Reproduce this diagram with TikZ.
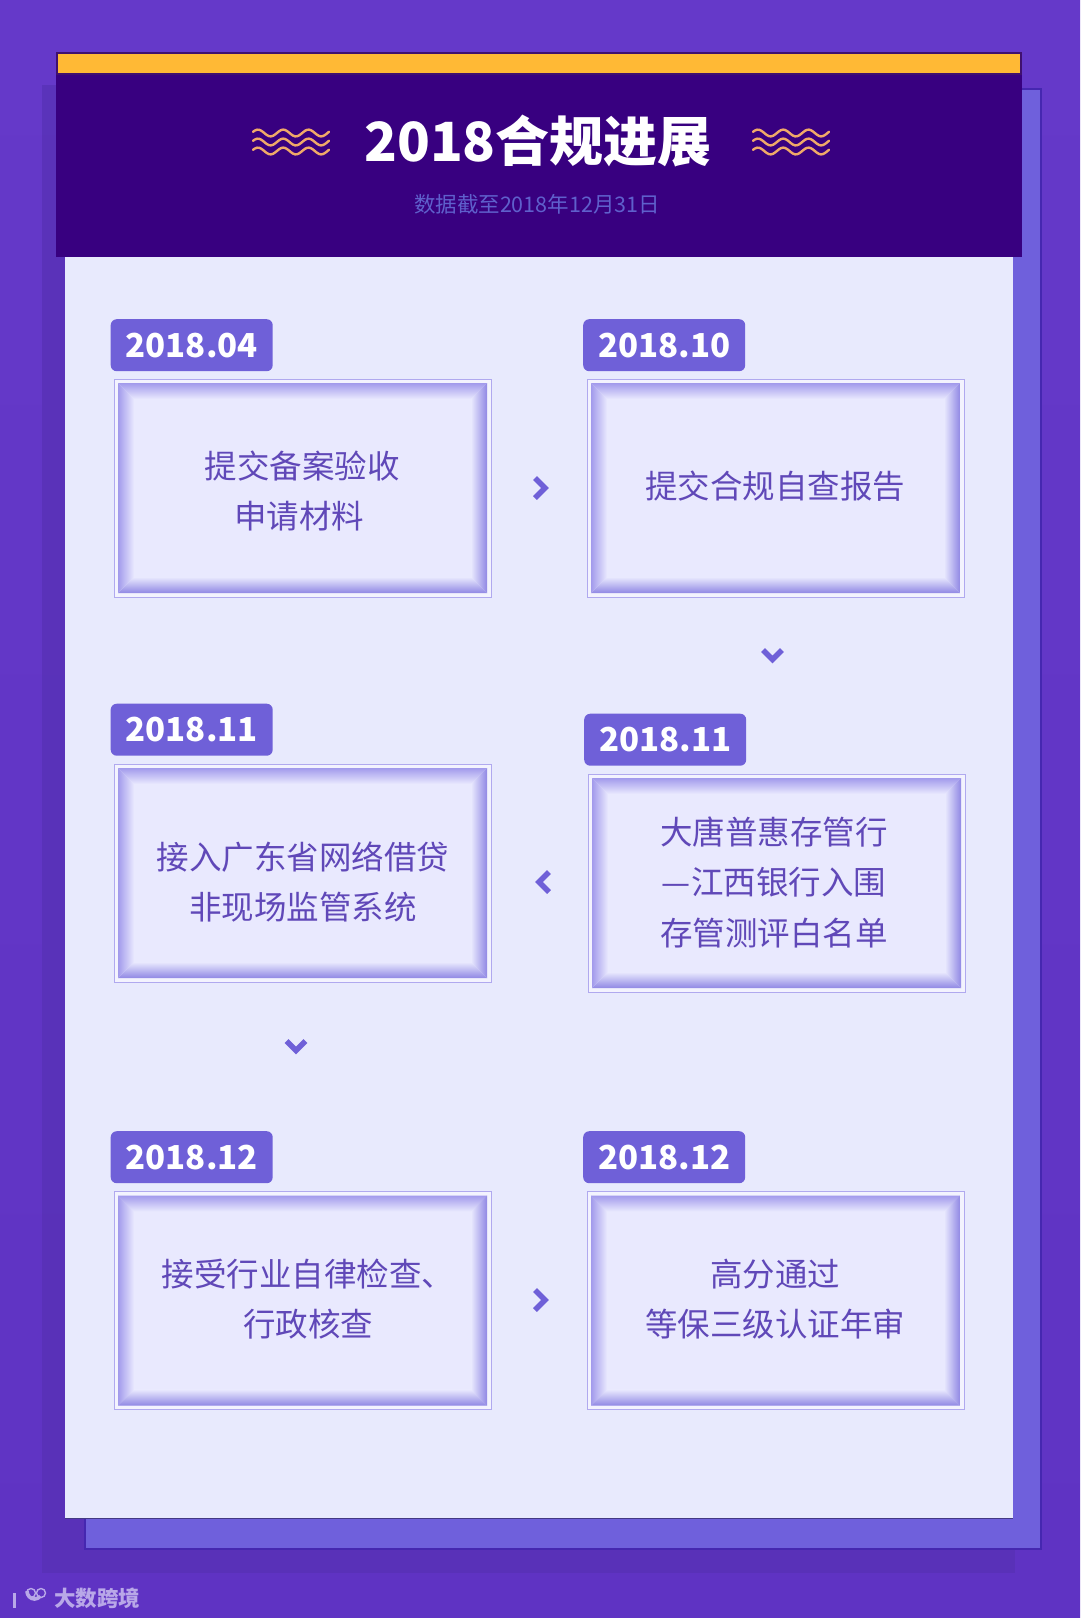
\documentclass[tikz,border=0pt]{standalone}
\usepackage{fontspec}
\setmainfont{Noto Sans CJK SC}
\definecolor{bgtop}{HTML}{6539C9}
\definecolor{bgbot}{HTML}{5F33C3}
\definecolor{shadowc}{HTML}{5731B5}
\definecolor{panelback}{HTML}{6F60DC}
\definecolor{panelline}{HTML}{4527B0}
\definecolor{panellight}{HTML}{E8EAFD}
\definecolor{headerc}{HTML}{380080}
\definecolor{headerline}{HTML}{40106F}
\definecolor{yellowc}{HTML}{FFB935}
\definecolor{wavec}{HTML}{F0A968}
\definecolor{subc}{HTML}{5F60CC}
\definecolor{tagc}{HTML}{6F60D8}
\definecolor{textc}{HTML}{6048B8}
\definecolor{edgec}{HTML}{A29AEC}
\definecolor{edgedark}{HTML}{9088E4}
\definecolor{innerc}{HTML}{E9E9FE}
\definecolor{markc}{HTML}{B9A8E8}
\tikzset{
  framebox/.style={draw=edgec!85!white,line width=1pt,fill=white!45!innerc,anchor=north west,inner sep=0pt,minimum width=377pt,minimum height=218pt},
  tagbox/.style={fill=tagc,rounded corners=6pt,anchor=north west,inner sep=0pt,minimum width=162pt,minimum height=52pt,text=white,font=\fontsize{33}{40}\selectfont\bfseries},
  bodytext/.style={text=textc,align=center,inner sep=0pt,font=\fontsize{32.5}{50.5}\selectfont},
  chevron/.style={draw=tagc,line width=5.5pt,miter limit=10},
  wave/.style={draw=wavec,line width=2.4pt,line cap=round}
}
\newcommand{\insetframe}[4]{%
  \fill[innerc] (#1,#2) rectangle (#3,#4);
  \begin{scope}
    \clip (#1,#2) -- (#1+16,#2+16) -- (#3-16,#2+16) -- (#3,#2) -- cycle;
    \shade[top color=edgec,bottom color=innerc] (#1,#2) rectangle (#3,#2+16);
  \end{scope}
  \begin{scope}
    \clip (#1,#4) -- (#1+16,#4-16) -- (#3-16,#4-16) -- (#3,#4) -- cycle;
    \shade[bottom color=edgedark,top color=innerc] (#1,#4-16) rectangle (#3,#4);
  \end{scope}
  \begin{scope}
    \clip (#1,#2) -- (#1+16,#2+16) -- (#1+16,#4-16) -- (#1,#4) -- cycle;
    \shade[left color=edgec,right color=innerc] (#1,#2) rectangle (#1+16,#4);
  \end{scope}
  \begin{scope}
    \clip (#3,#2) -- (#3-16,#2+16) -- (#3-16,#4-16) -- (#3,#4) -- cycle;
    \shade[right color=edgedark,left color=innerc] (#3-16,#2) rectangle (#3,#4);
  \end{scope}
}
\newcommand{\waves}[2]{%
  \foreach \dy in {0,9,18}{
    \draw[wave] plot[smooth,domain=0:76,samples=39] ({#1+\x},{#2+\dy+3.4*sin(\x/25.3*360+200)});
  }
}
\begin{document}
\begin{tikzpicture}[x=1pt,y=-1pt]
\useasboundingbox (0,0) rectangle (1080,1618);
\shade[top color=bgtop,bottom color=bgbot] (0,0) rectangle (1080,1618);
% stacked panels
\fill[shadowc,opacity=.75] (42,85) rectangle (1015,1573);
\draw[fill=panelback,draw=panelline,line width=2pt] (85,89) rectangle (1041,1549);
\fill[panellight] (65,240) rectangle (1013,1518);
\draw[black!40!panelback,line width=.8pt] (65,1518) -- (1013,1518);
\fill[headerc] (56,52) rectangle (1022,257);
\draw[headerline,line width=2pt] (57,53) rectangle (1021,74);
\fill[yellowc] (58,54) rectangle (1020,73);
% title
\waves{253}{133}
\waves{753}{133}
\node[text=white,inner sep=0pt,font=\fontsize{54}{60}\selectfont\bfseries] (title) at (538,141) {2018合规进展};
\node[text=subc,inner sep=0pt,font=\fontsize{21.5}{26}\selectfont] (subtitle) at (537,204) {数据截至2018年12月31日};
% frames
\node[framebox] (b1) at (113.5,378.5) {};
\insetframe{118}{383}{487}{593}
\node[framebox] (b2) at (586.5,378.5) {};
\insetframe{591}{383}{960}{593}
\node[framebox] (b3) at (113.5,763.5) {};
\insetframe{118}{768}{487}{978}
\node[framebox] (b4) at (587.5,773.5) {};
\insetframe{592}{778}{961}{988}
\node[framebox] (b5) at (113.5,1191) {};
\insetframe{118}{1195.5}{487}{1405.5}
\node[framebox] (b6) at (586.5,1191) {};
\insetframe{591}{1195.5}{960}{1405.5}
% date tags
\node[tagbox] (t1) at (110.5,319) {2018.04};
\node[tagbox] (t2) at (583,319) {2018.10};
\node[tagbox] (t3) at (110.5,703.5) {2018.11};
\node[tagbox] (t4) at (584,713.5) {2018.11};
\node[tagbox] (t5) at (110.5,1131) {2018.12};
\node[tagbox] (t6) at (583,1131) {2018.12};
% texts
\node[bodytext] (x1) at (302,491) {提交备案验收\\申请材料\hspace*{6pt}};
\node[bodytext] (x2) at (775,486) {提交合规自查报告};
\node[bodytext] (x3) at (303,882) {接入广东省网络借贷\\非现场监管系统};
\node[bodytext] (x4) at (774,882) {大唐普惠存管行\\—江西银行入围\\存管测评白名单};
\node[bodytext] (x5) at (308,1299) {接受行业自律检查、\\行政核查};
\node[bodytext] (x6) at (775,1299) {高分通过\\等保三级认证年审};
% chevrons
\draw[chevron] (535,478) -- (545,488) -- (535,498);
\draw[chevron] (763,650) -- (772.5,659.5) -- (782,650);
\draw[chevron] (549,872) -- (539,882) -- (549,892);
\draw[chevron] (286.5,1041) -- (296,1050.5) -- (305.5,1041);
\draw[chevron] (535,1290) -- (545,1300) -- (535,1310);
% watermark
\draw[markc,line width=3.2pt] (14.5,1593) -- (14.5,1608);
\draw[markc,line width=3.6pt] (27,1591) arc[start angle=180,end angle=320,x radius=7.5,y radius=-8];
\draw[markc,line width=1.4pt] (31,1593) circle (4.5);
\draw[markc,line width=1.4pt] (41,1593) circle (4.5);
\node[text=markc,inner sep=0pt,font=\fontsize{21.5}{26}\selectfont\bfseries] (mark) at (97,1598) {大数跨境};
\end{tikzpicture}
\end{document}
